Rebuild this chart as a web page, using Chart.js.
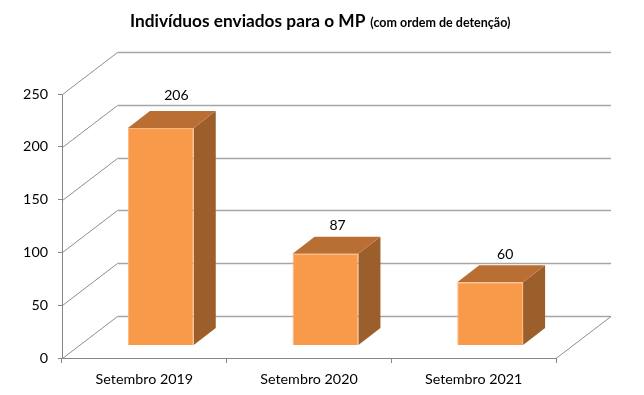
<!DOCTYPE html>
<html>
<head>
<meta charset="utf-8">
<title>Indivíduos enviados para o MP</title>
<script src="https://cdn.jsdelivr.net/npm/chart.js@4"></script>
<style>
	html, body { margin: 0; padding: 0; background: #fff; }
	canvas { display: block; }
</style>
</head>
<body>
<canvas id="mpChart" width="644" height="395"></canvas>
<script>
	'use strict'

	const categories = ['Setembro 2019', 'Setembro 2020', 'Setembro 2021'];
	const individuals = [206, 87, 60];
	const yTicks = [0, 50, 100, 150, 200, 250];

	const wallDepth = { x: 55, y: -42 };
	const barShift = { x: 16.5, y: -12.5 };
	const barDepth = { x: 22, y: -17 };
	const labelNudgeX = [15.5, 12, 15];
	const labelNudgeY = [15, 11, 11];
	const fontFamily = 'Lato, "Open Sans", sans-serif';

	function polygon(ctx, points, fill) {
		ctx.beginPath();
		points.forEach(function(point, index) {
			if (index === 0) {
				ctx.moveTo(point[0], point[1]);
			} else {
				ctx.lineTo(point[0], point[1]);
			}
		});
		ctx.closePath();
		ctx.fillStyle = fill;
		ctx.fill();
	}

	// back wall, side wall and floor of the fake 3D box
	const wallsPlugin = {
		id: 'walls',
		beforeDatasetsDraw(chart) {
			const { ctx, chartArea, scales } = chart;
			ctx.save();
			ctx.lineWidth = 1;
			yTicks.forEach(function(value) {
				const y = Math.round(scales.y.getPixelForValue(value)) + 0.5;
				const left = chartArea.left + 0.5;
				ctx.strokeStyle = '#8e8e8e';
				ctx.beginPath();
				ctx.moveTo(left, y);
				ctx.lineTo(left + wallDepth.x, y + wallDepth.y);
				ctx.stroke();
				ctx.strokeStyle = '#a6a6a6';
				ctx.lineWidth = 1.5;
				ctx.beginPath();
				ctx.moveTo(left + wallDepth.x, y + wallDepth.y);
				ctx.lineTo(chartArea.right + wallDepth.x, y + wallDepth.y);
				ctx.stroke();
				ctx.lineWidth = 1;
			});
			const floorY = chartArea.bottom + 0.5;
			ctx.strokeStyle = '#8e8e8e';
			ctx.beginPath();
			ctx.moveTo(chartArea.right, floorY);
			ctx.lineTo(chartArea.right + wallDepth.x, floorY + wallDepth.y);
			ctx.stroke();
			ctx.restore();
		}
	};

	// side and top faces are added around the library's own bars, which are moved into the box
	const boxBarsPlugin = {
		id: 'boxBars',
		beforeDatasetDraw(chart) {
			const { ctx } = chart;
			ctx.save();
			ctx.translate(barShift.x, barShift.y);
			chart.getDatasetMeta(0).data.forEach(function(bar) {
				const left = bar.x - bar.width / 2;
				const right = bar.x + bar.width / 2;
				polygon(ctx, [
					[right, bar.y], [right + barDepth.x, bar.y + barDepth.y],
					[right + barDepth.x, bar.base + barDepth.y], [right, bar.base]
				], '#9c5f2c');
				polygon(ctx, [
					[left, bar.y], [left + barDepth.x, bar.y + barDepth.y],
					[right + barDepth.x, bar.y + barDepth.y], [right, bar.y]
				], '#b96f33');
			});
		},
		afterDatasetDraw(chart) {
			const { ctx } = chart;
			ctx.restore();
			ctx.save();
			ctx.font = '14px ' + fontFamily;
			ctx.fillStyle = '#000';
			ctx.textAlign = 'center';
			ctx.textBaseline = 'middle';
			chart.getDatasetMeta(0).data.forEach(function(bar, index) {
				ctx.fillText(individuals[index], bar.x + barShift.x + labelNudgeX[index], bar.y + barShift.y + barDepth.y - labelNudgeY[index]);
			});
			ctx.restore();
		}
	};

	const titlePlugin = {
		id: 'mixedTitle',
		afterDraw(chart) {
			const { ctx } = chart;
			const mainText = 'Indivíduos enviados para o MP';
			const noteText = '(com ordem de detenção)';
			ctx.save();
			ctx.fillStyle = '#000';
			ctx.textBaseline = 'alphabetic';
			ctx.textAlign = 'left';
			ctx.font = 'bold 17.3px ' + fontFamily;
			ctx.fillText(mainText, 130, 27);
			const mainWidth = ctx.measureText(mainText).width;
			ctx.font = 'bold 12.5px ' + fontFamily;
			ctx.fillText(noteText, 130 + mainWidth + 5, 27);
			ctx.restore();
		}
	};

	new Chart(document.getElementById('mpChart'), {
		type: 'bar',
		data: {
			labels: categories,
			datasets: [{
				label: 'Indivíduos',
				data: individuals,
				backgroundColor: '#f99a4a',
				borderColor: '#fbb67e',
				borderWidth: 1,
				barPercentage: 0.4,
				categoryPercentage: 1
			}]
		},
		options: {
			responsive: false,
			animation: false,
			layout: {
				padding: { top: 94, right: 88, bottom: 0, left: 0 }
			},
			plugins: {
				legend: { display: false },
				tooltip: { enabled: false }
			},
			scales: {
				x: {
					afterFit(scale) {
						scale.height = 37;
					},
					grid: {
						drawOnChartArea: false,
						tickLength: 5,
						color: '#868686'
					},
					border: { color: '#868686' },
					ticks: {
						color: '#000',
						padding: 8,
						maxRotation: 0,
						font: { family: fontFamily, size: 14.3 }
					}
				},
				y: {
					min: 0,
					max: 250,
					afterFit(scale) {
						scale.width = 62;
					},
					grid: {
						drawOnChartArea: false,
						tickLength: 4,
						color: '#868686'
					},
					border: { color: '#868686' },
					ticks: {
						stepSize: 50,
						color: '#000',
						padding: 10,
						font: { family: fontFamily, size: 14.3 }
					}
				}
			}
		},
		plugins: [wallsPlugin, boxBarsPlugin, titlePlugin]
	});
</script>
</body>
</html>
